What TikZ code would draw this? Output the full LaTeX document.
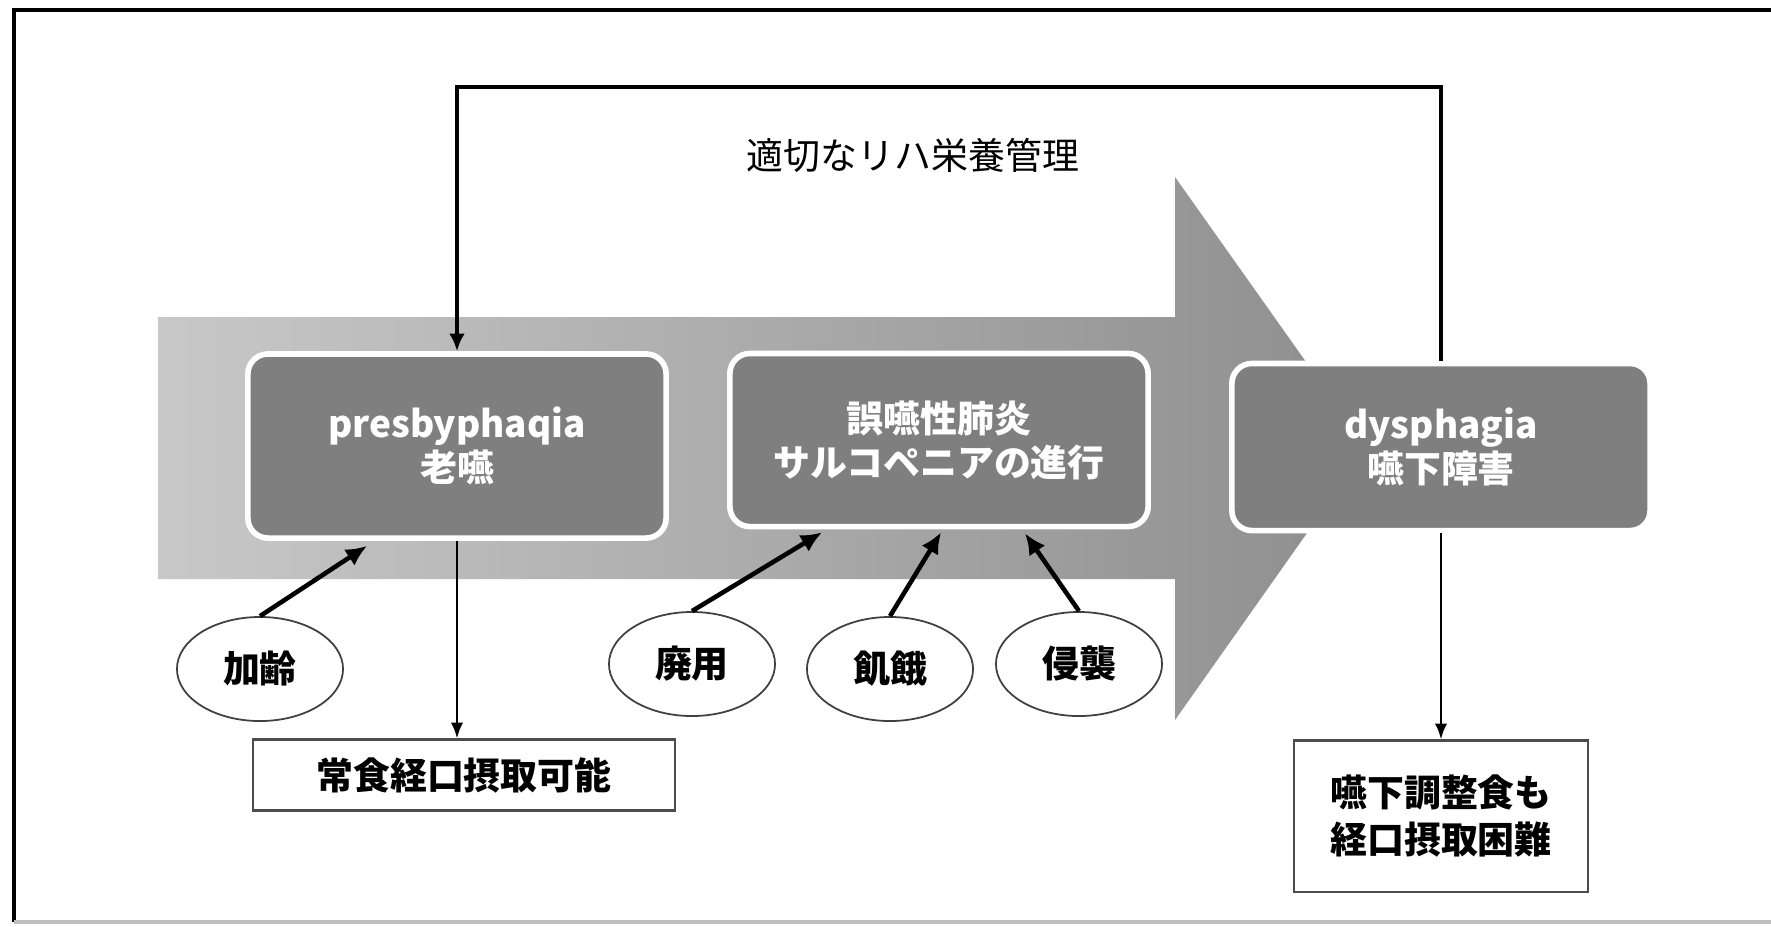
\documentclass[tikz,border=0pt]{standalone}
\usepackage{fontspec}
\setmainfont{Noto Sans CJK JP}
\usetikzlibrary{arrows.meta,calc,shapes.geometric}
\definecolor{boxgray}{HTML}{7F7F7F}
\definecolor{arrowlight}{HTML}{C8C8C8}
\definecolor{arrowdark}{HTML}{8E8E8E}
\tikzset{
  mainbox/.style={rectangle, rounded corners=0.2cm, fill=boxgray, draw=white, line width=1.6pt,
    text=white, font=\fontsize{10.5}{12.5}\selectfont\bfseries, align=center,
    minimum width=4.18cm},
  cause/.style={ellipse, draw=black!75, line width=0.5pt, fill=white, minimum width=1.66cm,
    minimum height=1.04cm, inner sep=0pt, font=\fontsize{10.5}{12.5}\selectfont\bfseries},
  outbox/.style={rectangle, draw=black!70, line width=0.6pt, fill=white, align=center,
    font=\fontsize{10.5}{13.5}\selectfont\bfseries, inner sep=0pt},
  fbline/.style={line width=1.1pt, -{Latex[length=5pt,width=4.5pt]}},
  causearrow/.style={line width=1.3pt, -{Latex[length=6pt,width=5.5pt]}},
  downarrow/.style={line width=0.7pt, -{Latex[length=4.5pt,width=3.5pt]}}
}
\begin{document}
\begin{tikzpicture}[x=0.01cm,y=-0.01cm]
\useasboundingbox (0,0) rectangle (1771,926);
\fill[white] (0,0) rectangle (1771,926);
% frame
\draw[line width=1.2pt] (1771,10) -- (14,10) -- (14,922);
\draw[black!25, line width=1pt] (14,922) -- (1771,922);
% big background arrow
\shade[left color=arrowlight, right color=arrowdark]
  (158,317) -- (1175,317) -- (1175,177) -- (1367,448) -- (1175,720) -- (1175,579) -- (158,579) -- cycle;
% main boxes
\node[mainbox, minimum height=1.84cm] (pres) at (457,446) {presbyphaqia\\老嚥};
\node[mainbox, minimum height=1.73cm] (asp) at (939,440) {誤嚥性肺炎\\サルコペニアの進行};
\node[mainbox, minimum height=1.67cm] (dys) at (1441,447) {dysphagia\\嚥下障害};
% label
\node[font=\fontsize{10.5}{12.5}\selectfont] (lab) at (913,155) {適切なリハ栄養管理};
% causes
\node[cause] (e1) at (260,669) {加齢};
\node[cause] (e2) at (692,664) {廃用};
\node[cause] (e3) at (890,669) {飢餓};
\node[cause] (e4) at (1079,664) {侵襲};
% outcome boxes
\node[outbox, minimum width=4.21cm, minimum height=0.71cm] (food1) at (464,775) {常食経口摂取可能};
\node[outbox, minimum width=2.93cm, minimum height=1.51cm] (food2) at (1441,816) {嚥下調整食も\\経口摂取困難};
% feedback
\coordinate (fbtop) at (913,87);
\draw[fbline] (dys.north) |- (fbtop) -| (pres.north);
% cause arrows
\draw[causearrow] (e1.north) -- ($(pres.south west)+(122,5)$);
\draw[causearrow] (e2.north) -- ($(asp.south west)+(95,3)$);
\draw[causearrow] (e3.north) -- ($(asp.south west)+(214,3)$);
\draw[causearrow] (e4.north) -- ($(asp.south west)+(298,4)$);
% down arrows
\draw[downarrow] (pres.south) -- (pres.south |- food1.north);
\draw[downarrow] (dys.south) -- (dys.south |- food2.north);
\end{tikzpicture}
\end{document}
